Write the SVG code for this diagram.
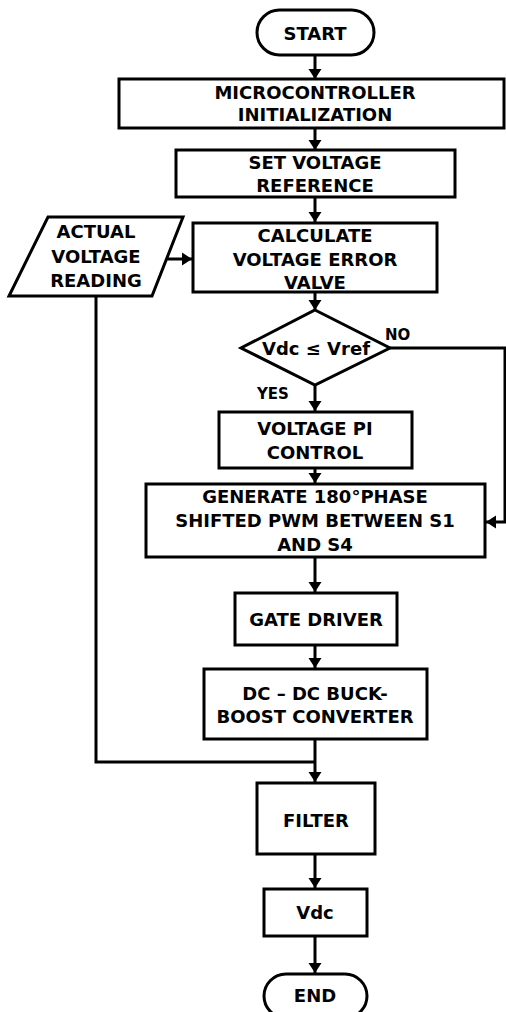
<svg xmlns="http://www.w3.org/2000/svg" width="506" height="1012" viewBox="0 0 506 1012">
<style>
.s{fill:#fff;stroke:#000;stroke-width:3}
.t{font-family:"DejaVu Sans","Verdana",sans-serif;font-weight:bold;font-size:18px;fill:#000;text-anchor:middle}
.l{font-family:"DejaVu Sans","Verdana",sans-serif;font-weight:bold;font-size:15px;fill:#000}
.c{fill:none;stroke:#000;stroke-width:3}
</style>
<defs>
<marker id="a" markerUnits="userSpaceOnUse" markerWidth="11" markerHeight="14" refX="10" refY="7" orient="auto">
<path d="M0,0.5 L10,7 L0,13.5 z" fill="#000"/>
</marker>
</defs>
<rect width="506" height="1012" fill="#fff"/>
<g id="connectors">
<line class="c" x1="315" y1="55" x2="315" y2="79" marker-end="url(#a)"/>
<line class="c" x1="315" y1="128" x2="315" y2="150" marker-end="url(#a)"/>
<line class="c" x1="315" y1="197" x2="315" y2="222" marker-end="url(#a)"/>
<line class="c" x1="164" y1="259" x2="192" y2="259" marker-end="url(#a)"/>
<line class="c" x1="315" y1="292" x2="315" y2="310" marker-end="url(#a)"/>
<line class="c" x1="315" y1="385" x2="315" y2="411" marker-end="url(#a)"/>
<polyline class="c" points="390,348 505,348 505,522 486,522" marker-end="url(#a)"/>
<line class="c" x1="315" y1="468" x2="315" y2="483" marker-end="url(#a)"/>
<line class="c" x1="315" y1="557" x2="315" y2="592" marker-end="url(#a)"/>
<line class="c" x1="315" y1="645" x2="315" y2="668" marker-end="url(#a)"/>
<line class="c" x1="315" y1="739" x2="315" y2="782" marker-end="url(#a)"/>
<polyline class="c" points="96,296 96,762 315,762"/>
<line class="c" x1="315" y1="854" x2="315" y2="888" marker-end="url(#a)"/>
<line class="c" x1="315" y1="936" x2="315" y2="973" marker-end="url(#a)"/>
</g>
<g id="start">
<rect class="s" x="257" y="10" width="117" height="45" rx="22.5"/>
<text class="t" x="315" y="40">START</text>
</g>
<g id="init">
<rect class="s" x="119" y="79" width="385" height="49"/>
<text class="t" x="315" y="99">MICROCONTROLLER</text>
<text class="t" x="315" y="121">INITIALIZATION</text>
</g>
<g id="setref">
<rect class="s" x="176" y="150" width="279" height="47"/>
<text class="t" x="315" y="169">SET VOLTAGE</text>
<text class="t" x="315" y="192">REFERENCE</text>
</g>
<g id="actual">
<polygon class="s" points="48,217 183,217 152,296 9,296"/>
<text class="t" x="96" y="238">ACTUAL</text>
<text class="t" x="96" y="263">VOLTAGE</text>
<text class="t" x="96" y="287">READING</text>
</g>
<g id="calc">
<rect class="s" x="193" y="223" width="244" height="69"/>
<text class="t" x="315" y="242">CALCULATE</text>
<text class="t" x="315" y="266">VOLTAGE ERROR</text>
<text class="t" x="315" y="289">VALVE</text>
</g>
<g id="decision">
<polygon class="s" points="315,310 390,348 315,385 241,348"/>
<text class="t" x="316" y="355">Vdc ≤ Vref</text>
<text class="l" x="385" y="340">NO</text>
<text class="l" x="257" y="399">YES</text>
</g>
<g id="pi">
<rect class="s" x="219" y="412" width="193" height="56"/>
<text class="t" x="315" y="435">VOLTAGE PI</text>
<text class="t" x="315" y="459">CONTROL</text>
</g>
<g id="pwm">
<rect class="s" x="146" y="484" width="339" height="73"/>
<text class="t" x="315" y="503">GENERATE 180°PHASE</text>
<text class="t" x="315" y="527">SHIFTED PWM BETWEEN S1</text>
<text class="t" x="315" y="551">AND S4</text>
</g>
<g id="gate">
<rect class="s" x="235" y="593" width="162" height="52"/>
<text class="t" x="316" y="626">GATE DRIVER</text>
</g>
<g id="converter">
<rect class="s" x="204" y="669" width="223" height="70"/>
<text class="t" x="315" y="700">DC – DC BUCK-</text>
<text class="t" x="315" y="723">BOOST CONVERTER</text>
</g>
<g id="filter">
<rect class="s" x="257" y="783" width="118" height="71"/>
<text class="t" x="316" y="827">FILTER</text>
</g>
<g id="vdc">
<rect class="s" x="264" y="889" width="103" height="47"/>
<text class="t" x="315" y="919">Vdc</text>
</g>
<g id="end">
<rect class="s" x="264" y="974" width="103" height="44" rx="22"/>
<text class="t" x="315" y="1002">END</text>
</g>
</svg>
